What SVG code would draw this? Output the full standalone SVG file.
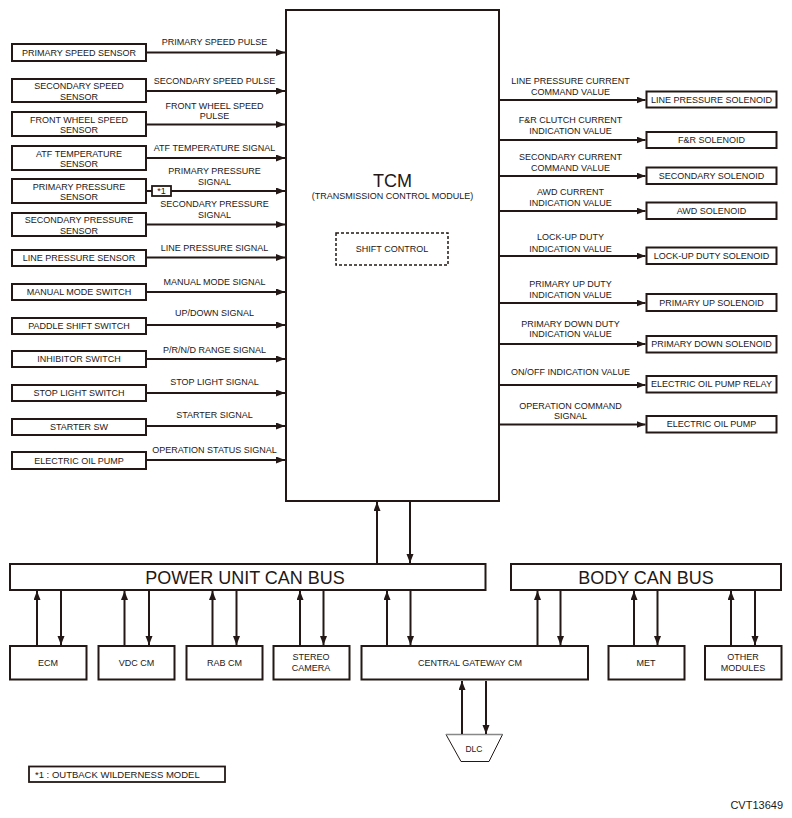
<svg xmlns="http://www.w3.org/2000/svg" width="792" height="818" viewBox="0 0 792 818">
<style>
text{font-family:"Liberation Sans",Arial,sans-serif;fill:#231815}
.s{font-size:9px}
.m{text-anchor:middle}
.big{font-size:18px}
.box{fill:#fff;stroke:#231815;stroke-width:2}
.ln{stroke:#231815;stroke-width:2;fill:none}
</style>
<defs>
<marker id="ah" markerUnits="userSpaceOnUse" markerWidth="10" markerHeight="8" refX="9" refY="3.5" orient="auto">
<path d="M0,0 L9,3.5 L0,7 z" fill="#231815"/>
</marker>
</defs>
<rect width="792" height="818" fill="#fff"/>

<g id="tcm">
<rect class="box" x="286" y="10" width="213" height="491"/>
<text class="big m" x="392.5" y="187">TCM</text>
<text class="s m" x="392.5" y="199">(TRANSMISSION CONTROL MODULE)</text>
<rect x="336" y="233" width="112" height="32" fill="none" stroke="#231815" stroke-width="1.5" stroke-dasharray="3,2"/>
<text class="s m" x="392" y="252">SHIFT CONTROL</text>
</g>

<!-- left inputs -->
<g id="n-primary-speed-sensor"><rect class="box" x="12" y="44" width="134" height="17"/><text class="s m" x="79" y="55.7">PRIMARY SPEED SENSOR</text></g>
<g id="n-secondary-speed-sensor"><rect class="box" x="12" y="79" width="134" height="23"/><text class="s m" x="79" y="89">SECONDARY SPEED</text><text class="s m" x="79" y="99.6">SENSOR</text></g>
<g id="n-front-wheel-speed-sensor"><rect class="box" x="12" y="112" width="134" height="24"/><text class="s m" x="79" y="122.5">FRONT WHEEL SPEED</text><text class="s m" x="79" y="133.1">SENSOR</text></g>
<g id="n-atf-temperature-sensor"><rect class="box" x="12" y="146" width="134" height="24"/><text class="s m" x="79" y="156.5">ATF TEMPERATURE</text><text class="s m" x="79" y="167.1">SENSOR</text></g>
<g id="n-primary-pressure-sensor"><rect class="box" x="12" y="179" width="134" height="24"/><text class="s m" x="79" y="189.5">PRIMARY PRESSURE</text><text class="s m" x="79" y="200.1">SENSOR</text></g>
<g id="n-secondary-pressure-sensor"><rect class="box" x="12" y="213" width="134" height="23"/><text class="s m" x="79" y="223">SECONDARY PRESSURE</text><text class="s m" x="79" y="233.6">SENSOR</text></g>
<g id="n-line-pressure-sensor"><rect class="box" x="12" y="250" width="134" height="16"/><text class="s m" x="79" y="261.2">LINE PRESSURE SENSOR</text></g>
<g id="n-manual-mode-switch"><rect class="box" x="12" y="284" width="134" height="16"/><text class="s m" x="79" y="295.2">MANUAL MODE SWITCH</text></g>
<g id="n-paddle-shift-switch"><rect class="box" x="12" y="318" width="134" height="16"/><text class="s m" x="79" y="329.2">PADDLE SHIFT SWITCH</text></g>
<g id="n-inhibitor-switch"><rect class="box" x="12" y="351" width="134" height="16"/><text class="s m" x="79" y="362.2">INHIBITOR SWITCH</text></g>
<g id="n-stop-light-switch"><rect class="box" x="12" y="385" width="134" height="16"/><text class="s m" x="79" y="396.2">STOP LIGHT SWITCH</text></g>
<g id="n-starter-sw"><rect class="box" x="12" y="419" width="134" height="16"/><text class="s m" x="79" y="430.2">STARTER SW</text></g>
<g id="n-electric-oil-pump-in"><rect class="box" x="12" y="452" width="134" height="17"/><text class="s m" x="79" y="463.7">ELECTRIC OIL PUMP</text></g>
<g id="n-note-mark"><rect x="152" y="186" width="19" height="10" fill="#fff" stroke="#231815" stroke-width="1.8"/><text class="m" x="161.5" y="194.3" style="font-size:9px">*1</text></g>

<!-- right outputs -->
<g id="n-line-pressure-solenoid"><rect class="box" x="646.5" y="91.5" width="130" height="16"/><text class="s m" x="711.5" y="102.7">LINE PRESSURE SOLENOID</text></g>
<g id="n-fr-solenoid"><rect class="box" x="646.5" y="132" width="130" height="16"/><text class="s m" x="711.5" y="143.2">F&amp;R SOLENOID</text></g>
<g id="n-secondary-solenoid"><rect class="box" x="646.5" y="167.5" width="130" height="16.5"/><text class="s m" x="711.5" y="179">SECONDARY SOLENOID</text></g>
<g id="n-awd-solenoid"><rect class="box" x="646.5" y="202.5" width="130" height="16.5"/><text class="s m" x="711.5" y="214">AWD SOLENOID</text></g>
<g id="n-lockup-duty-solenoid"><rect class="box" x="646.5" y="247.5" width="130" height="16.5"/><text class="s m" x="711.5" y="259">LOCK-UP DUTY SOLENOID</text></g>
<g id="n-primary-up-solenoid"><rect class="box" x="646.5" y="294" width="130" height="17"/><text class="s m" x="711.5" y="306">PRIMARY UP SOLENOID</text></g>
<g id="n-primary-down-solenoid"><rect class="box" x="646.5" y="336" width="130" height="16.5"/><text class="s m" x="711.5" y="347.4">PRIMARY DOWN SOLENOID</text></g>
<g id="n-electric-oil-pump-relay"><rect class="box" x="646.5" y="376" width="130" height="16.5"/><text class="s m" x="711.5" y="387.4">ELECTRIC OIL PUMP RELAY</text></g>
<g id="n-electric-oil-pump-out"><rect class="box" x="646.5" y="416" width="130" height="16.5"/><text class="s m" x="711.5" y="427.4">ELECTRIC OIL PUMP</text></g>

<!-- buses and modules -->
<g id="n-power-unit-can-bus"><rect class="box" x="10" y="564" width="475.5" height="26"/><text class="big m" x="245" y="583.5">POWER UNIT CAN BUS</text></g>
<g id="n-body-can-bus"><rect class="box" x="511" y="564" width="270" height="26"/><text class="big m" x="646" y="583.5">BODY CAN BUS</text></g>
<g id="n-ecm"><rect class="box" x="10" y="646" width="76.5" height="33.5"/><text class="s m" x="48" y="666">ECM</text></g>
<g id="n-vdc-cm"><rect class="box" x="98.5" y="646" width="76" height="33.5"/><text class="s m" x="136.5" y="666">VDC CM</text></g>
<g id="n-rab-cm"><rect class="box" x="186.5" y="646" width="76" height="33.5"/><text class="s m" x="224.5" y="666">RAB CM</text></g>
<g id="n-stereo-camera"><rect class="box" x="273.5" y="646" width="76" height="33.5"/><text class="s m" x="311" y="660">STEREO</text><text class="s m" x="311" y="671">CAMERA</text></g>
<g id="n-central-gateway-cm"><rect class="box" x="361.5" y="646" width="226.5" height="33.5"/><text class="s m" x="470" y="666">CENTRAL GATEWAY CM</text></g>
<g id="n-met"><rect class="box" x="608.5" y="646" width="76" height="33.5"/><text class="s m" x="646" y="666">MET</text></g>
<g id="n-other-modules"><rect class="box" x="705" y="646" width="76.5" height="33.5"/><text class="s m" x="743" y="660">OTHER</text><text class="s m" x="743" y="671">MODULES</text></g>
<g id="n-dlc"><polygon points="446,734.5 502.5,734.5 489,761.5 461,761.5" fill="#fff" stroke="#231815" stroke-width="1"/><line x1="446" y1="734.5" x2="502.5" y2="734.5" stroke="#888" stroke-width="1.5"/><text class="m" x="474" y="752" style="font-size:8.5px">DLC</text></g>

<g id="connectors">
<!-- left -->
<line class="ln" x1="147" y1="52.5" x2="285" y2="52.5" marker-end="url(#ah)"/>
<line class="ln" x1="147" y1="91" x2="285" y2="91" marker-end="url(#ah)"/>
<line class="ln" x1="147" y1="124.5" x2="285" y2="124.5" marker-end="url(#ah)"/>
<line class="ln" x1="147" y1="158" x2="285" y2="158" marker-end="url(#ah)"/>
<line class="ln" x1="147" y1="191" x2="152" y2="191"/>
<line class="ln" x1="171" y1="191" x2="285" y2="191" marker-end="url(#ah)"/>
<line class="ln" x1="147" y1="224.5" x2="285" y2="224.5" marker-end="url(#ah)"/>
<line class="ln" x1="147" y1="257.5" x2="285" y2="257.5" marker-end="url(#ah)"/>
<line class="ln" x1="147" y1="292" x2="285" y2="292" marker-end="url(#ah)"/>
<line class="ln" x1="147" y1="325" x2="285" y2="325" marker-end="url(#ah)"/>
<line class="ln" x1="147" y1="359" x2="285" y2="359" marker-end="url(#ah)"/>
<line class="ln" x1="147" y1="393" x2="285" y2="393" marker-end="url(#ah)"/>
<line class="ln" x1="147" y1="426" x2="285" y2="426" marker-end="url(#ah)"/>
<line class="ln" x1="147" y1="460" x2="285" y2="460" marker-end="url(#ah)"/>
<!-- right -->
<line class="ln" x1="500" y1="100" x2="645.5" y2="100" marker-end="url(#ah)"/>
<line class="ln" x1="500" y1="140" x2="645.5" y2="140" marker-end="url(#ah)"/>
<line class="ln" x1="500" y1="176" x2="645.5" y2="176" marker-end="url(#ah)"/>
<line class="ln" x1="500" y1="211" x2="645.5" y2="211" marker-end="url(#ah)"/>
<line class="ln" x1="500" y1="256" x2="645.5" y2="256" marker-end="url(#ah)"/>
<line class="ln" x1="500" y1="303" x2="645.5" y2="303" marker-end="url(#ah)"/>
<line class="ln" x1="500" y1="344" x2="645.5" y2="344" marker-end="url(#ah)"/>
<line class="ln" x1="500" y1="385" x2="645.5" y2="385" marker-end="url(#ah)"/>
<line class="ln" x1="500" y1="424.5" x2="645.5" y2="424.5" marker-end="url(#ah)"/>
<!-- TCM to bus -->
<line class="ln" x1="377" y1="563" x2="377" y2="502" marker-end="url(#ah)"/>
<line class="ln" x1="410" y1="502" x2="410" y2="563" marker-end="url(#ah)"/>
<!-- modules to buses -->
<line class="ln" x1="37" y1="645" x2="37" y2="591" marker-end="url(#ah)"/>
<line class="ln" x1="61" y1="591" x2="61" y2="645" marker-end="url(#ah)"/>
<line class="ln" x1="124.5" y1="645" x2="124.5" y2="591" marker-end="url(#ah)"/>
<line class="ln" x1="149" y1="591" x2="149" y2="645" marker-end="url(#ah)"/>
<line class="ln" x1="212.5" y1="645" x2="212.5" y2="591" marker-end="url(#ah)"/>
<line class="ln" x1="236.5" y1="591" x2="236.5" y2="645" marker-end="url(#ah)"/>
<line class="ln" x1="300" y1="645" x2="300" y2="591" marker-end="url(#ah)"/>
<line class="ln" x1="323.5" y1="591" x2="323.5" y2="645" marker-end="url(#ah)"/>
<line class="ln" x1="387" y1="645" x2="387" y2="591" marker-end="url(#ah)"/>
<line class="ln" x1="410.5" y1="591" x2="410.5" y2="645" marker-end="url(#ah)"/>
<line class="ln" x1="537.5" y1="645" x2="537.5" y2="591" marker-end="url(#ah)"/>
<line class="ln" x1="560.5" y1="591" x2="560.5" y2="645" marker-end="url(#ah)"/>
<line class="ln" x1="634" y1="645" x2="634" y2="591" marker-end="url(#ah)"/>
<line class="ln" x1="657.5" y1="591" x2="657.5" y2="645" marker-end="url(#ah)"/>
<line class="ln" x1="731" y1="645" x2="731" y2="591" marker-end="url(#ah)"/>
<line class="ln" x1="755" y1="591" x2="755" y2="645" marker-end="url(#ah)"/>
<!-- DLC -->
<line class="ln" x1="462" y1="734" x2="462" y2="681" marker-end="url(#ah)"/>
<line class="ln" x1="486" y1="681" x2="486" y2="734" marker-end="url(#ah)"/>
</g>

<g id="connector-labels">
<text class="s m" x="214.5" y="45">PRIMARY SPEED PULSE</text>
<text class="s m" x="214.5" y="83.5">SECONDARY SPEED PULSE</text>
<text class="s m" x="214.5" y="108.5">FRONT WHEEL SPEED</text>
<text class="s m" x="214.5" y="119">PULSE</text>
<text class="s m" x="214.5" y="150.7">ATF TEMPERATURE SIGNAL</text>
<text class="s m" x="214.5" y="174">PRIMARY PRESSURE</text>
<text class="s m" x="214.5" y="185">SIGNAL</text>
<text class="s m" x="214.5" y="207.3">SECONDARY PRESSURE</text>
<text class="s m" x="214.5" y="218.3">SIGNAL</text>
<text class="s m" x="214.5" y="250.7">LINE PRESSURE SIGNAL</text>
<text class="s m" x="214.5" y="285">MANUAL MODE SIGNAL</text>
<text class="s m" x="214.5" y="316">UP/DOWN SIGNAL</text>
<text class="s m" x="214.5" y="352.7">P/R/N/D RANGE SIGNAL</text>
<text class="s m" x="214.5" y="385">STOP LIGHT SIGNAL</text>
<text class="s m" x="214.5" y="418.3">STARTER SIGNAL</text>
<text class="s m" x="214.5" y="453.3">OPERATION STATUS SIGNAL</text>

<text class="s m" x="570.5" y="84">LINE PRESSURE CURRENT</text>
<text class="s m" x="570.5" y="95">COMMAND VALUE</text>
<text class="s m" x="570.5" y="123.3">F&amp;R CLUTCH CURRENT</text>
<text class="s m" x="570.5" y="134">INDICATION VALUE</text>
<text class="s m" x="570.5" y="160">SECONDARY CURRENT</text>
<text class="s m" x="570.5" y="171">COMMAND VALUE</text>
<text class="s m" x="570.5" y="195">AWD CURRENT</text>
<text class="s m" x="570.5" y="205.7">INDICATION VALUE</text>
<text class="s m" x="570.5" y="240">LOCK-UP DUTY</text>
<text class="s m" x="570.5" y="251.7">INDICATION VALUE</text>
<text class="s m" x="570.5" y="287.3">PRIMARY UP DUTY</text>
<text class="s m" x="570.5" y="298.3">INDICATION VALUE</text>
<text class="s m" x="570.5" y="326.7">PRIMARY DOWN DUTY</text>
<text class="s m" x="570.5" y="337.3">INDICATION VALUE</text>
<text class="s m" x="570.5" y="375">ON/OFF INDICATION VALUE</text>
<text class="s m" x="570.5" y="409">OPERATION COMMAND</text>
<text class="s m" x="570.5" y="419">SIGNAL</text>
</g>

<g id="footnote">
<rect x="29" y="766.5" width="196" height="15.5" fill="#fff" stroke="#231815" stroke-width="1.8"/>
<text x="35" y="777.8" style="font-size:9.5px">*1 : OUTBACK WILDERNESS MODEL</text>
</g>
<text x="783" y="809" style="font-size:11px;text-anchor:end">CVT13649</text>
</svg>
